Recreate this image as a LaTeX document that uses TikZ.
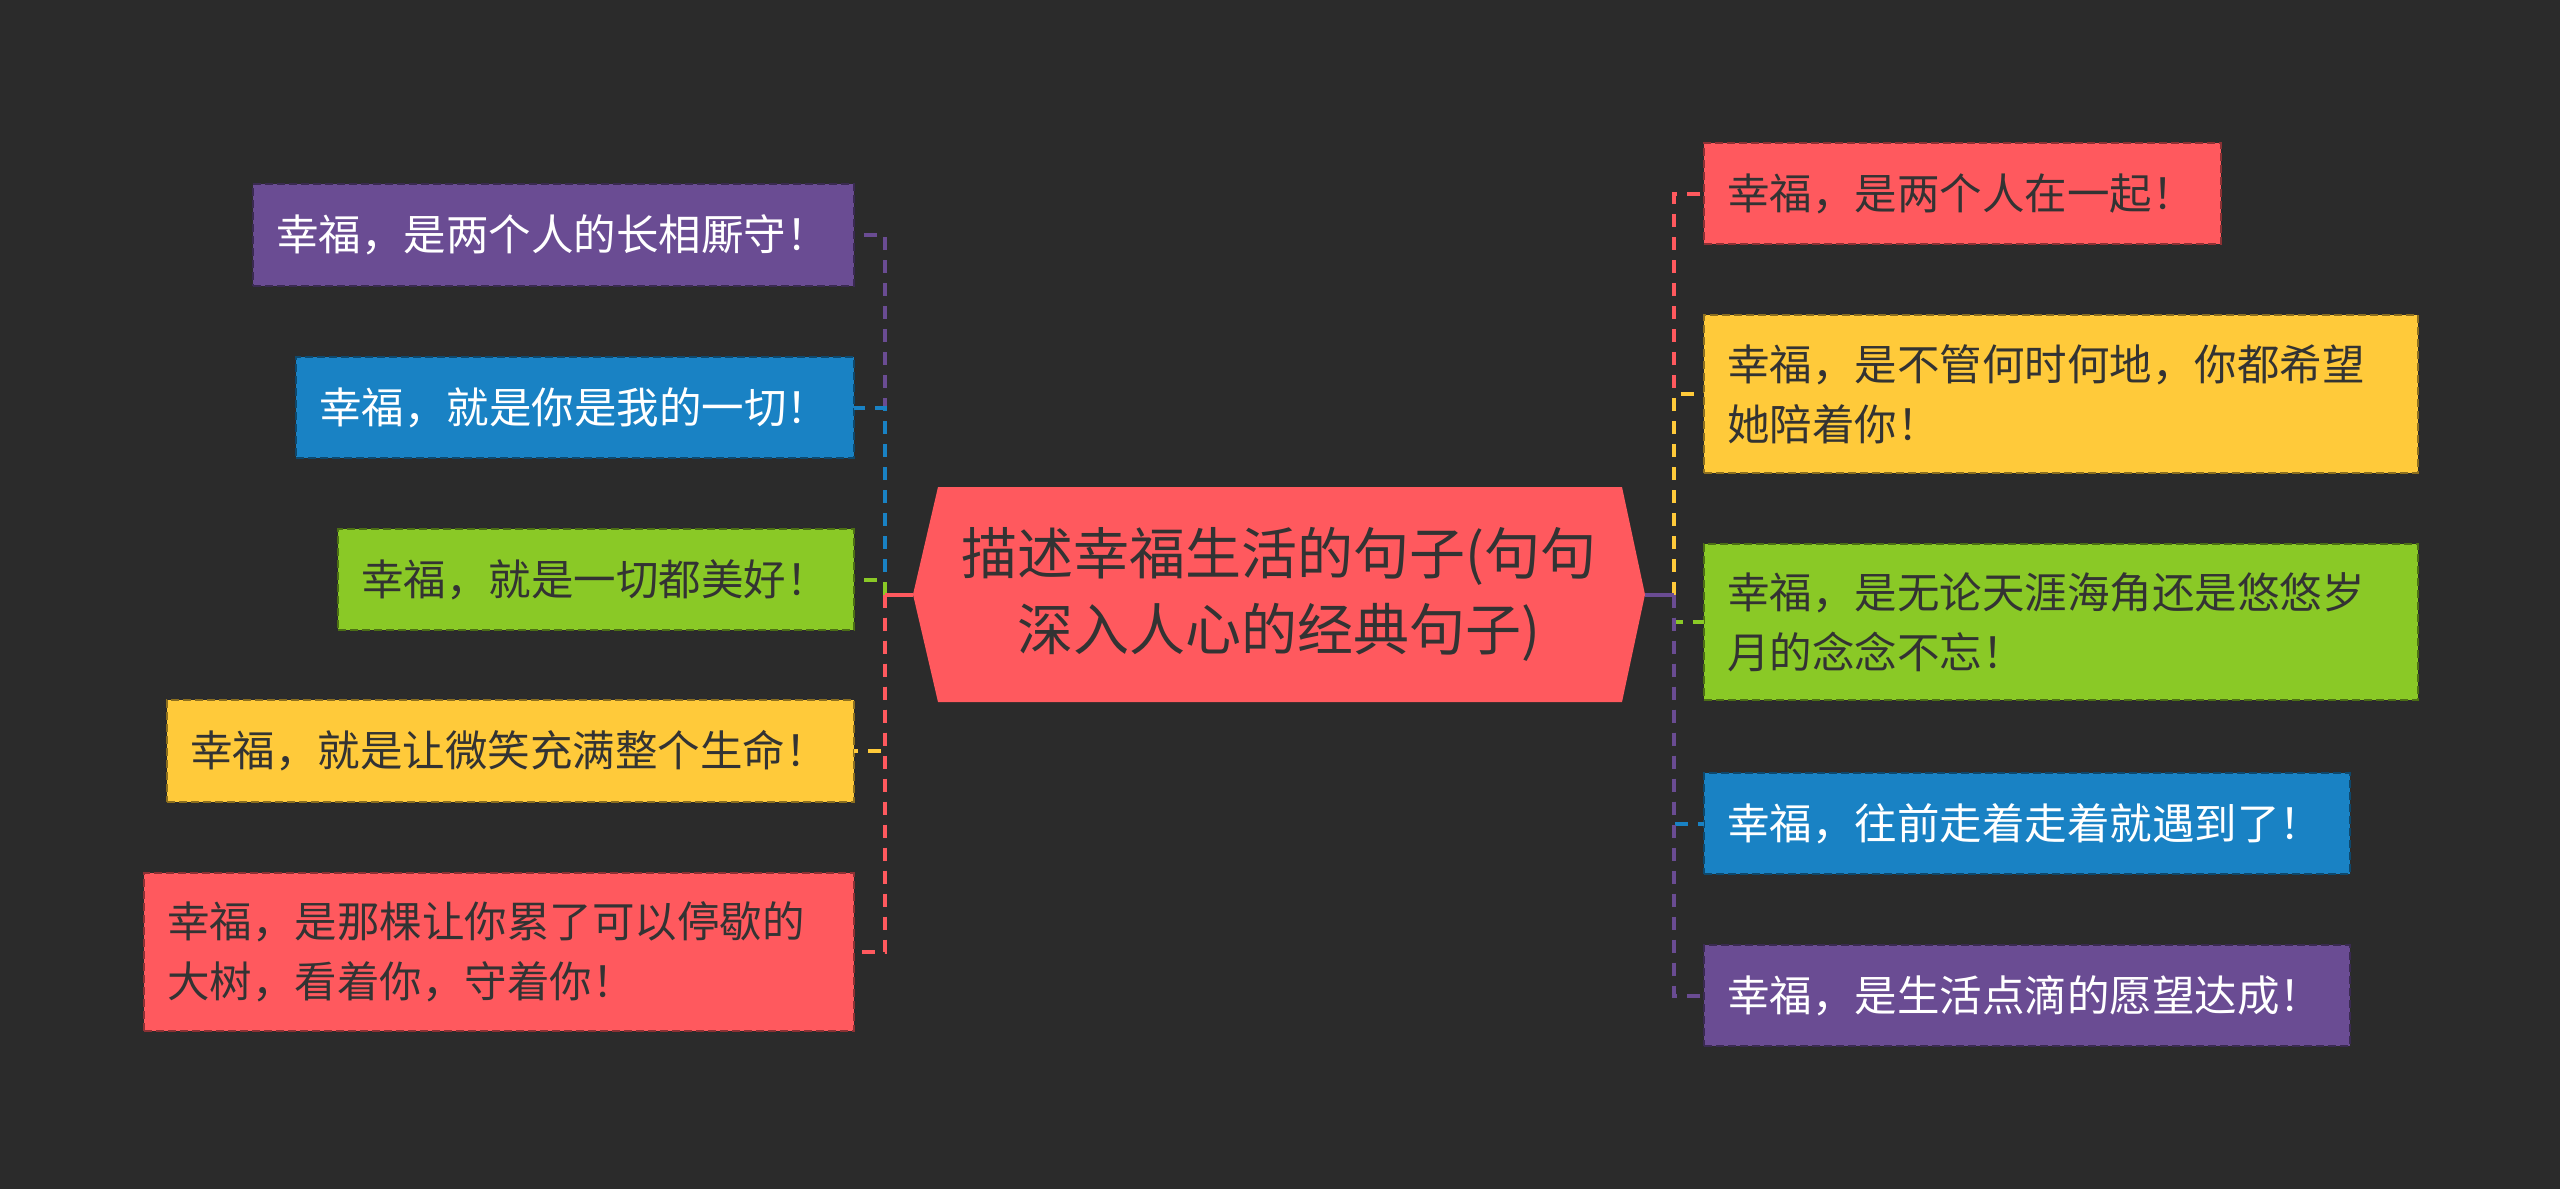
\documentclass[tikz,border=0pt]{standalone}
\usepackage{fontspec}
\setmainfont{Noto Sans CJK SC}
\definecolor{bg}{HTML}{2B2B2B}
\definecolor{cred}{HTML}{FF595E}
\definecolor{cyel}{HTML}{FFCA3A}
\definecolor{cgrn}{HTML}{8AC926}
\definecolor{cblu}{HTML}{1982C4}
\definecolor{cpur}{HTML}{6A4C93}
\definecolor{dtext}{HTML}{333333}
\tikzset{
  box/.style={rectangle, anchor=north west, inner xsep=23pt, inner ysep=0pt, outer sep=0pt,
    align=left, font=\fontsize{42.5}{60}\selectfont, line width=2pt, dash pattern=on 8pt off 4pt},
  boxc/.style n args={4}{box, fill=#1, draw=#1!55!black, text=#2, text width=#3-46pt, minimum height=#4},
  link/.style={line width=4pt, dash pattern=on 13pt off 10pt},
  trunk/.style={line width=4pt}
}
\begin{document}
\begin{tikzpicture}[x=1pt,y=-1pt]
\useasboundingbox (0,0) rectangle (2560,1189);
\fill[bg] (0,0) rectangle (2560,1189);

% central topic
\node[rectangle, inner sep=0pt, outer sep=0pt, minimum width=732pt, minimum height=215pt] (c) at (1279,594.5) {};
\fill[cred] ([xshift=25pt]c.north west) -- ([xshift=-23pt]c.north east) -- (c.east)
  -- ([xshift=-23pt]c.south east) -- ([xshift=25pt]c.south west) -- (c.west) -- cycle;
\node[align=center, text=dtext, font=\fontsize{56}{76}\selectfont] (ct) at (c.center) {描述幸福生活的句子(句句\\深入人心的经典句子)};

% left nodes
\node[boxc={cpur}{white}{601pt}{102pt}] (L1) at (253,184) {幸福，是两个人的长相厮守！};
\node[boxc={cblu}{white}{558pt}{101pt}] (L2) at (296,357) {幸福，就是你是我的一切！};
\node[boxc={cgrn}{dtext}{516pt}{101pt}] (L3) at (338,529) {幸福，就是一切都美好！};
\node[boxc={cyel}{dtext}{687pt}{102pt}] (L4) at (167,700) {幸福，就是让微笑充满整个生命！};
\node[boxc={cred}{dtext}{710pt}{158pt}] (L5) at (144,873) {幸福，是那棵让你累了可以停歇的\\大树，看着你，守着你！};

% right nodes
\node[boxc={cred}{dtext}{517pt}{101pt}] (R1) at (1704,143) {幸福，是两个人在一起！};
\node[boxc={cyel}{dtext}{714pt}{158pt}] (R2) at (1704,315) {幸福，是不管何时何地，你都希望\\她陪着你！};
\node[boxc={cgrn}{dtext}{714pt}{156pt}] (R3) at (1704,544) {幸福，是无论天涯海角还是悠悠岁\\月的念念不忘！};
\node[boxc={cblu}{white}{646pt}{101pt}] (R4) at (1704,773) {幸福，往前走着走着就遇到了！};
\node[boxc={cpur}{white}{646pt}{101pt}] (R5) at (1704,945) {幸福，是生活点滴的愿望达成！};

% connectors
\coordinate (lt) at (885,594.5);
\coordinate (rt) at (1674,594.5);
\draw[link, cpur] (lt) |- (L1.east);
\draw[link, cblu] (lt) |- (L2.east);
\draw[link, cgrn] (lt) |- (L3.east);
\draw[link, cyel] (lt) |- (L4.east);
\draw[link, cred] (lt) |- (L5.east);
\draw[trunk, cred] (c.west) -- (lt);

\draw[link, cred] (rt) |- (R1.west);
\draw[link, cyel] (rt) |- (R2.west);
\draw[link, cgrn] (rt) |- (R3.west);
\draw[link, cblu] (rt) |- (R4.west);
\draw[link, cpur] (rt) |- (R5.west);
\draw[trunk, cpur] (c.east) -- (rt);
\end{tikzpicture}
\end{document}
